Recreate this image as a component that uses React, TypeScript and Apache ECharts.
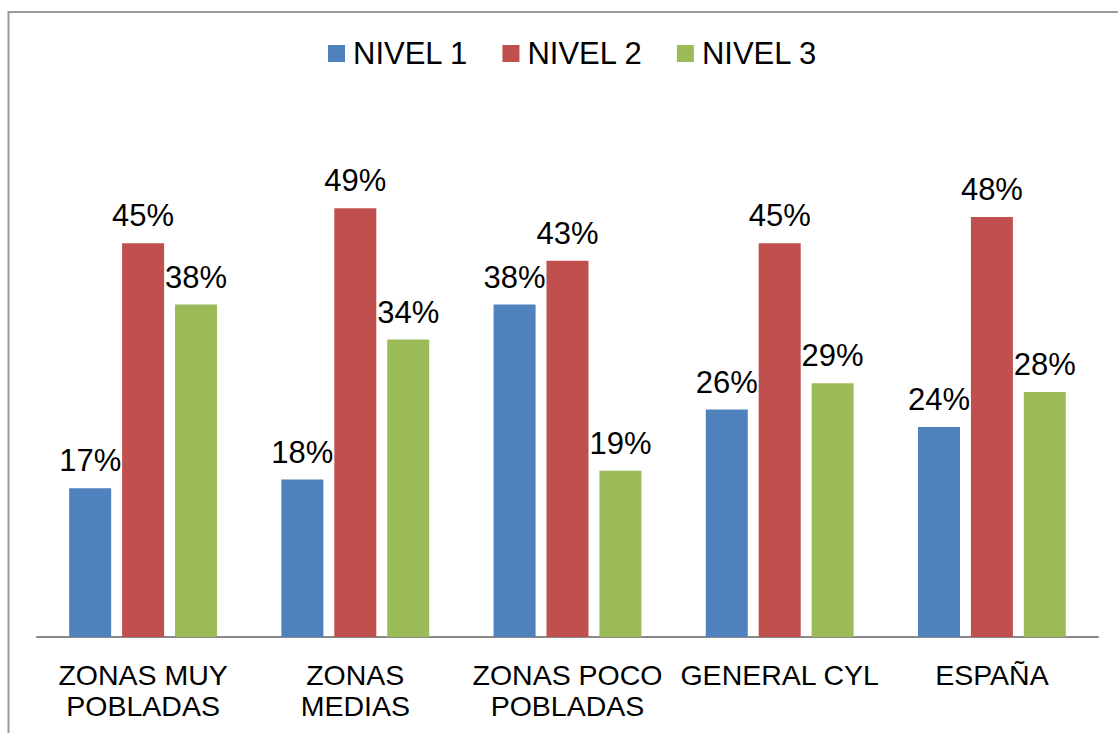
import React, { useEffect, useRef } from "react";
import * as echarts from "echarts";

const categories = ["ZONAS MUY\nPOBLADAS", "ZONAS\nMEDIAS", "ZONAS POCO\nPOBLADAS", "GENERAL CYL", "ESPAÑA"];
const seriesNames = ["NIVEL 1", "NIVEL 2", "NIVEL 3"];
const nivel1 = [17, 18, 38, 26, 24];
const nivel2 = [45, 49, 43, 45, 48];
const nivel3 = [38, 34, 19, 29, 28];
const colors = ["#4F81BD", "#C0504D", "#9BBB59"];

export default function App() {
  const ref = useRef<HTMLDivElement>(null);
  useEffect(() => {
    if (!ref.current) return;
    const chart = echarts.init(ref.current, null, { renderer: "svg" });
    const font = "'Liberation Sans', Arial, sans-serif";
    const mk = (name: string, data: number[], color: string) => ({
      name,
      type: "bar",
      data,
      barWidth: 42,
      barGap: "26%",
      itemStyle: { color },
      label: {
        show: true,
        position: "top",
        distance: 12,
        formatter: "{c}%",
        color: "#000",
        fontSize: 31,
        fontFamily: font,
      },
    });
    chart.setOption({
      animation: false,
      backgroundColor: "#fff",
      graphic: [
        {
          type: "rect",
          shape: { x: 8.5, y: 12, width: 1200, height: 800 },
          style: { fill: "none", stroke: "#9a9a9a", lineWidth: 2 },
          silent: true,
        },
      ],
      legend: {
        top: 33,
        left: 323,
        itemWidth: 17,
        itemHeight: 17,
        itemGap: 34,
        icon: "rect",
        textStyle: { fontSize: 31, color: "#000", fontFamily: font, padding: [0, 0, 0, 3] },
        data: seriesNames,
      },
      grid: { left: 37, right: 20, top: 112, bottom: 96 },
      xAxis: {
        type: "category",
        data: categories,
        axisLine: { lineStyle: { color: "#898989", width: 2 } },
        axisTick: { show: false },
        axisLabel: {
          color: "#000",
          fontSize: 28.5,
          fontFamily: font,
          lineHeight: 31,
          margin: 22,
          interval: 0,
        },
      },
      yAxis: { type: "value", min: 0, max: 60, show: false, splitLine: { show: false } },
      series: [mk(seriesNames[0], nivel1, colors[0]), mk(seriesNames[1], nivel2, colors[1]), mk(seriesNames[2], nivel3, colors[2])],
    });
    return () => chart.dispose();
  }, []);
  return <div ref={ref} style={{ position: "absolute", left: 0, top: 0, width: 1118, height: 733 }} />;
}
